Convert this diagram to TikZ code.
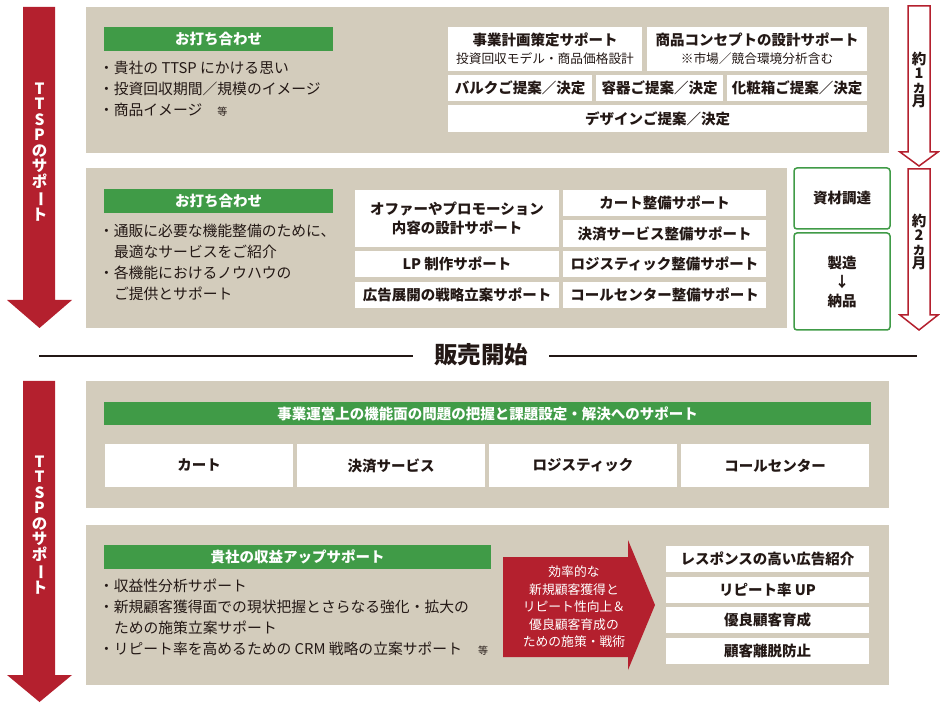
\documentclass[tikz,border=0pt]{standalone}
\usepackage{fontspec}
\setmainfont{Noto Sans CJK JP}
\definecolor{beige}{RGB}{211,204,188}
\definecolor{tgreen}{RGB}{64,155,71}
\definecolor{tred}{RGB}{180,32,46}
\definecolor{ink}{RGB}{35,24,21}
\newcommand\rbox[6][]{\node[#1, minimum width={(#5-#3)*1pt}, minimum height={(#6-#4)*1pt}] (#2) at ({(#3+#5)/2},{(#4+#6)/2})}
\newcommand\tfont{\fontsize{14.5}{19}\selectfont\bfseries}
\newcommand\bfont{\fontsize{14.8}{16}\selectfont}
\newcommand\smallto{\fontsize{10}{10}\selectfont 等}
\begin{document}
\begin{tikzpicture}[x=1pt,y=-1pt,
  every node/.style={inner sep=0pt, outer sep=0pt, text=ink},
  panel/.style={fill=beige},
  gbar/.style={fill=tgreen, text=white, font=\tfont},
  wbox/.style={fill=white, font=\tfont, align=center},
  obox/.style={draw=tgreen, line width=1.5pt, rounded corners=3pt, fill=white, font=\tfont, align=center},
  bul/.style={anchor=west, font=\bfont},
  vtext/.style={text=white, font=\fontsize{15.5}{15.5}\selectfont\bfseries, align=center},
  mtext/.style={font=\fontsize{14.5}{14}\selectfont\bfseries, align=center},
  redarrow/.style={fill=tred},
  hollow/.style={draw=tred, line width=1.5pt, fill=white, line join=miter}
]
\useasboundingbox (0,0) rectangle (940,708);

% ---------- left red arrows ----------
\fill[redarrow] (23,7) -- (55,7) -- (55,300) -- (72,300) -- (39.5,328) -- (7,300) -- (23,300) -- cycle;
\node[vtext] (ttsp1) at (39.5,152) {T\\T\\S\\P\\の\\サ\\ポ\\\rotatebox[origin=c]{-90}{ー}\\ト};
\fill[redarrow] (23,381) -- (55,381) -- (55,675) -- (72,675) -- (39.5,702) -- (7,675) -- (23,675) -- cycle;
\node[vtext] (ttsp2) at (39.5,525) {T\\T\\S\\P\\の\\サ\\ポ\\\rotatebox[origin=c]{-90}{ー}\\ト};

% ---------- right hollow arrows ----------
\draw[hollow] (908,6) -- (930,6) -- (930,152) -- (938,152) -- (919,166) -- (900,152) -- (908,152) -- cycle;
\node[mtext] (m1) at (919,80) {約\\1\\ヵ\\月};
\draw[hollow] (908,169) -- (930,169) -- (930,315) -- (938,315) -- (919,330) -- (900,315) -- (908,315) -- cycle;
\node[mtext] (m2) at (919,242) {約\\2\\ヵ\\月};

% ---------- panel 1 ----------
\rbox[panel]{p1}{86}{7}{889}{153} {};
\rbox[gbar]{g1}{104}{27}{333}{51} {お打ち合わせ};
\node[bul] (b11) at (99,68) {・貴社の TTSP にかける思い};
\node[bul] (b12) at (99,89) {・投資回収期間／規模のイメージ};
\node[bul] (b13) at (99,110) {・商品イメージ\hspace{15pt}\smallto};
\rbox[wbox]{jigyo}{448}{27}{642}{71} {事業計画策定サポート\\[-1pt]{\fontsize{12.7}{14}\selectfont\mdseries 投資回収モデル・商品価格設計}};
\rbox[wbox]{concept}{647}{27}{867}{71} {商品コンセプトの設計サポート\\[-1pt]{\fontsize{12.7}{14}\selectfont\mdseries ※市場／競合環境分析含む}};
\rbox[wbox]{bulk}{448}{75}{592}{101} {バルクご提案／決定};
\rbox[wbox]{yoki}{596}{75}{723}{101} {容器ご提案／決定};
\rbox[wbox]{keshou}{727}{75}{867}{101} {化粧箱ご提案／決定};
\rbox[wbox]{design}{448}{105}{867}{132} {デザインご提案／決定};

% ---------- panel 2 ----------
\rbox[panel]{p2}{86}{168}{787}{328} {};
\rbox[gbar]{g2}{104}{189}{333}{213} {お打ち合わせ};
\node[bul] (b21) at (99,231) {・通販に必要な機能整備のために、};
\node[bul] (b22) at (114,252) {最適なサービスをご紹介};
\node[bul] (b23) at (99,273) {・各機能におけるノウハウの};
\node[bul] (b24) at (114,294) {ご提供とサポート};
\rbox[wbox]{offer}{355}{190}{559}{247} {オファーやプロモーション\\内容の設計サポート};
\rbox[wbox]{cart}{563}{190}{766}{216} {カート整備サポート};
\rbox[wbox]{kessai}{563}{220}{766}{247} {決済サービス整備サポート};
\rbox[wbox]{lp}{355}{251}{559}{277} {LP 制作サポート};
\rbox[wbox]{logi}{563}{251}{766}{277} {ロジスティック整備サポート};
\rbox[wbox]{koukoku}{355}{282}{559}{308} {広告展開の戦略立案サポート};
\rbox[wbox]{call}{563}{282}{766}{308} {コールセンター整備サポート};
\rbox[obox]{shizai}{794}{168}{890}{229} {資材調達};
\rbox[obox]{seizo}{794}{233}{890}{330} {製造\\↓\\納品};

% ---------- sales start ----------
\node[font=\fontsize{23.5}{25}\selectfont\bfseries, inner xsep=21pt] (start) at (481,355) {販売開始};
\coordinate (lineL) at (39,356);
\coordinate (lineR) at (917,356);
\draw[line width=1.4pt, ink] (lineL) -- (start.west |- lineL);
\draw[line width=1.4pt, ink] (start.east |- lineR) -- (lineR);

% ---------- panel 3 ----------
\rbox[panel]{p3}{86}{381}{889}{508} {};
\rbox[gbar]{g3}{104}{402}{871}{425} {事業運営上の機能面の問題の把握と課題設定・解決へのサポート};
\rbox[wbox]{c1}{105}{444}{293}{487} {カート};
\rbox[wbox]{c2}{297}{444}{485}{487} {決済サービス};
\rbox[wbox]{c3}{489}{444}{677}{487} {ロジスティック};
\rbox[wbox]{c4}{681}{444}{869}{487} {コールセンター};

% ---------- panel 4 ----------
\rbox[panel]{p4}{86}{525}{889}{685} {};
\rbox[gbar]{g4}{104}{545}{491}{569} {貴社の収益アップサポート};
\node[bul] (b41) at (99,586) {・収益性分析サポート};
\node[bul] (b42) at (99,607) {・新規顧客獲得面での現状把握とさらなる強化・拡大の};
\node[bul] (b43) at (114,628) {ための施策立案サポート};
\node[bul] (b44) at (99,649) {・リピート率を高めるための CRM 戦略の立案サポート\hspace{16pt}\smallto};
\fill[redarrow] (503,557) -- (628,557) -- (628,540) -- (655,605) -- (628,670) -- (628,657) -- (503,657) -- cycle;
\node[text=white, font=\fontsize{12.8}{17.5}\selectfont, align=center] (strategy) at (574,607) {効率的な\\新規顧客獲得と\\リピート性向上＆\\優良顧客育成の\\ための施策・戦術};
\rbox[wbox]{r1}{666}{546}{869}{572} {レスポンスの高い広告紹介};
\rbox[wbox]{r2}{666}{577}{869}{603} {リピート率 UP};
\rbox[wbox]{r3}{666}{607}{869}{633} {優良顧客育成};
\rbox[wbox]{r4}{666}{638}{869}{664} {顧客離脱防止};
\end{tikzpicture}
\end{document}
